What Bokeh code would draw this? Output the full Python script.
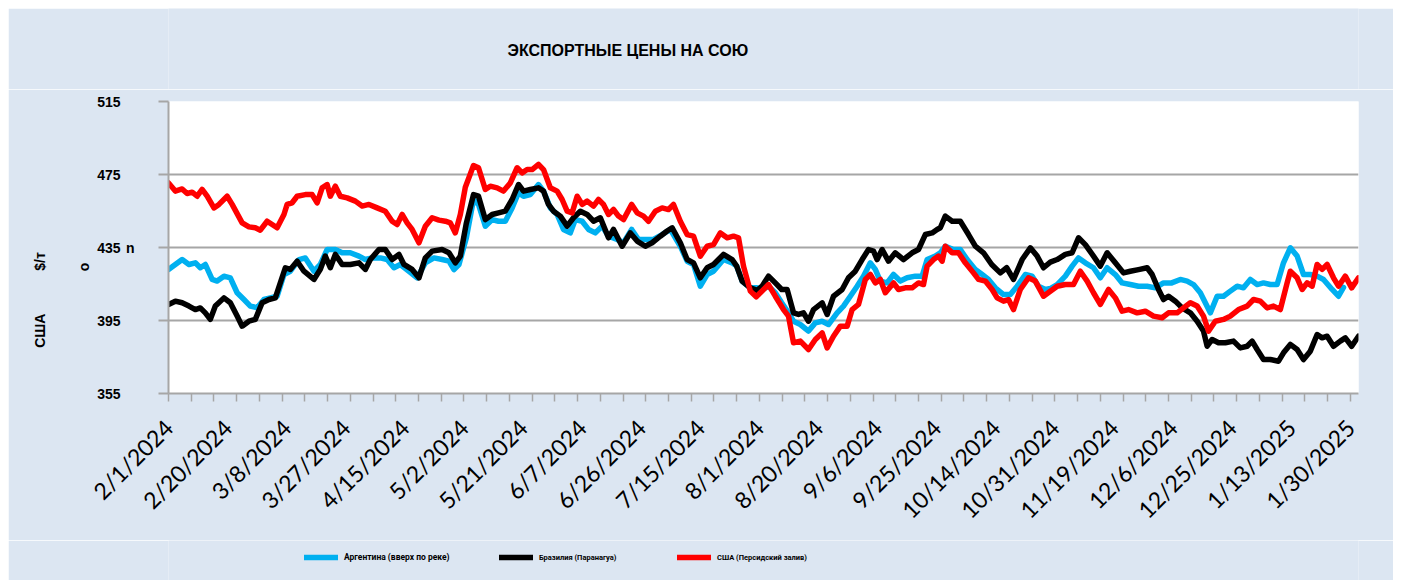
from math import pi
from bokeh.plotting import figure
from bokeh.layouts import column
from bokeh.models import FixedTicker, Legend, LegendItem, Range1d, LinearAxis, Label
from bokeh.embed import file_html
from bokeh.resources import INLINE

title_text = "ЭКСПОРТНЫЕ ЦЕНЫ НА СОЮ"
y_title_parts = ["США", "$/т", "о", "n"]
series_names = ["Аргентина (вверх по реке)", "Бразилия (Паранагуа)", "США (Персидский залив)"]
series_colors = ["#00b0f0", "#000000", "#ff0000"]
tick_labels = ["2/1/2024", "2/20/2024", "3/8/2024", "3/27/2024", "4/15/2024", "5/2/2024",
               "5/21/2024", "6/7/2024", "6/26/2024", "7/15/2024", "8/1/2024", "8/20/2024",
               "9/6/2024", "9/25/2024", "10/14/2024", "10/31/2024", "11/19/2024", "12/6/2024",
               "12/25/2024", "1/13/2025", "1/30/2025"]
label_step = 13          # trading days between date labels
minor_step = 5           # trading days between tick marks
y_ticks = [355, 395, 435, 475, 515]

# x = trading-day index from 2/1/2024
arg_x = [0, 1.5, 3.0, 4.5, 5.9, 7.0, 8.1, 9.6, 10.7, 12.2, 13.6, 15.1, 16.6, 18.0, 19.5, 21.0, 22.4, 23.9,
         25.4, 26.8, 28.7, 30.1, 32.0, 33.4, 34.9, 36.7, 38.2, 40.0, 41.9, 43.3, 44.8, 46.6, 48.1, 49.6,
         51.0, 52.9, 54.7, 56.5, 58.4, 60.2, 61.7, 62.8, 63.9, 65.5,
         67.1, 68.2, 69.7, 71.2, 72.6, 74.1, 75.6, 77.0, 78.1, 79.6, 81.4, 82.5, 84.0, 85.5, 86.9, 88.4,
         89.5, 91.0, 92.4, 93.9, 95.4, 96.8, 98.7, 100.1, 101.9, 103.4, 104.9, 106.7, 108.6, 110.4,
         112.6, 114.1, 115.5, 117.0, 118.5, 119.9, 122.1, 124.0, 125.0, 126.2, 128.0,
         129.3, 130.6, 132.0, 133.5, 134.9, 136.4, 137.5, 139.0, 140.8, 142.3, 143.8, 145.2, 147.1,
         148.5, 150.0, 151.5, 152.9, 154.4, 155.5, 156.6, 158.1, 159.5, 161.0, 162.5, 164.3, 165.8,
         166.9, 168.7, 169.8, 170.9, 172.7, 174.2, 175.7, 177.5, 179.0, 180.4, 181.9, 183.7, 185.2,
         186.7, 188.5, 190.0, 191.4, 192.9,
         194.0, 195.5, 197.3, 198.8, 200.2, 201.7, 203.5, 205.0, 206.5, 208.3, 209.8, 211.6, 213.4,
         215.3, 217.1, 218.9, 220.7, 222.6, 224.1, 225.5, 227.0, 228.1, 229.2, 230.7, 232.1, 233.6,
         235.1, 236.5, 238.0, 239.5, 240.9, 242.4, 243.9, 245.3, 246.8, 248.3, 249.7, 251.2, 252.7,
         254.1, 256.0, 257.4, 258.5]
arg_y = [422.9, 425.7, 428.4, 425.7, 426.6, 423.9, 425.7, 417.5, 416.6, 419.3, 418.4, 410.2, 406.5, 402.9,
         402.0, 406.5, 407.4, 408.3, 420.2, 422.0, 428.4, 429.3, 422.0, 425.7, 433.9, 433.9, 432.1, 432.1,
         430.3, 428.4, 429.3, 429.3, 428.4, 423.9, 425.7, 422.0, 418.4, 426.6, 429.3, 428.4, 427.5, 422.9,
         425.7, 440.0,
         461.3, 458.6, 446.7, 450.3, 449.4, 449.4, 456.7, 465.0, 463.1, 464.0, 469.5, 465.9, 456.7, 453.1,
         444.9, 443.0, 450.3, 449.4, 444.9, 443.0, 446.7, 441.2, 439.4, 437.6, 444.9, 439.4, 439.4, 439.4,
         442.1, 444.9, 435.7, 427.5, 425.7, 413.8, 420.2, 422.0, 428.4, 426.6, 424.8, 416.6, 412.9,
         413.0, 412.0, 413.8, 410.2, 404.7, 399.2, 394.6, 392.8, 389.2, 393.7, 394.6, 392.8, 399.2,
         402.9, 408.3, 413.8, 419.3, 426.6, 423.0, 416.6, 415.6, 420.2, 416.6, 418.4, 419.3, 419.3,
         428.4, 430.3, 432.1, 435.7, 433.9, 433.9, 428.4, 423.0, 420.2, 417.5, 412.9, 409.2, 409.2,
         413.8, 420.2, 419.3, 413.8, 412.0,
         412.5, 414.7, 419.3, 424.8, 429.3, 426.6, 423.9, 418.4, 423.9, 420.2, 415.6, 414.7, 413.8,
         413.8, 412.9, 415.6, 415.6, 417.5, 416.6, 414.7, 410.2, 404.7, 399.2, 408.3, 408.3, 411.1,
         413.8, 412.9, 417.5, 414.7, 415.6, 414.7, 414.7, 426.6, 434.8, 430.3, 420.2, 420.2, 419.3,
         417.5, 412.0, 408.3, 413.1]

bra_x = [0, 1.5, 3.0, 4.5, 5.9, 7.0, 8.1, 9.2, 10.3, 12.2, 13.6, 15.1, 16.2, 17.7, 19.1, 20.6, 22.1, 23.5,
         25.7, 26.8, 28.3, 29.8, 32.0, 33.4, 34.5, 35.6, 36.7, 38.2, 40.0, 41.9, 43.3, 44.4, 46.3, 47.7,
         49.2, 50.7, 51.8, 53.6, 55.1, 56.5, 58.0, 60.2, 61.7, 63.1, 64.2, 65.5,
         67.1, 68.2, 69.7, 71.2, 72.6, 74.1, 75.6, 77.0, 78.1, 79.6, 81.4, 82.5, 83.6, 84.7, 86.2, 87.7,
         89.1, 90.6, 92.1, 93.5, 95.0, 96.8, 97.9, 99.8, 101.6, 103.1, 104.9, 106.4, 108.2, 109.7, 110.8,
         112.6, 114.1, 115.5, 117.0, 118.5, 119.9, 122.1, 124.0, 125.0, 126.2, 128.0,
         129.5, 130.6, 132.0, 133.5, 134.9, 136.1, 137.5, 138.6, 139.7, 140.8, 141.9, 143.8, 144.9,
         146.3, 148.2, 149.6, 151.1, 152.6, 154.0, 155.1, 155.9, 157.0, 158.4, 159.9, 161.7, 163.6,
         165.0, 166.5, 168.0, 169.1, 169.8, 170.9, 172.4, 174.2, 176.0, 177.5, 179.3, 181.1, 183.0,
         184.4, 185.9, 187.8, 189.6, 191.1, 192.5, 194.0,
         195.5, 197.3, 198.8, 200.2, 201.7, 203.5, 205.0, 206.5, 208.3, 210.1, 211.6, 213.4, 215.3,
         216.4, 217.8, 218.9, 220.0, 221.5, 223.0, 224.8, 226.3, 227.7, 228.5, 229.6, 231.0, 232.5,
         234.3, 235.8, 237.3, 238.4, 239.5, 240.9, 242.4, 244.2, 245.3, 246.8, 248.3, 249.7, 251.2,
         252.7, 253.8, 254.9, 256.3, 257.8, 258.9, 260.3, 261.8]
bra_y = [403.8, 405.6, 404.7, 402.9, 401.0, 401.9, 399.2, 395.6, 402.9, 407.4, 404.7, 397.4, 391.9, 394.6,
         395.6, 404.7, 406.5, 407.4, 423.9, 423.0, 427.5, 422.0, 417.5, 423.0, 430.3, 423.9, 431.2, 425.7,
         425.7, 426.6, 423.0, 428.4, 433.9, 433.9, 428.4, 431.2, 425.7, 423.0, 418.4, 429.3, 433.0, 433.9,
         432.1, 426.6, 430.3, 448.0,
         464.0, 463.1, 450.3, 453.1, 454.0, 454.9, 461.3, 469.5, 465.9, 466.8, 467.7, 465.9, 458.6, 454.9,
         452.2, 446.7, 451.3, 454.9, 453.1, 449.4, 451.3, 440.3, 444.9, 435.7, 443.0, 438.5, 435.7, 437.6,
         441.2, 444.0, 445.8, 437.6, 428.4, 426.6, 418.4, 423.9, 425.7, 431.2, 428.4, 424.8, 416.6, 412.9,
         411.5, 413.8, 419.3, 415.6, 412.0, 412.0, 399.2, 398.3, 399.2, 394.6, 401.0, 404.7, 398.3,
         408.3, 412.0, 418.4, 422.0, 428.4, 433.9, 433.0, 428.4, 433.9, 427.5, 432.1, 428.4, 432.1,
         433.9, 442.1, 443.0, 444.9, 445.8, 452.2, 449.4, 449.4, 442.1, 435.7, 432.1, 425.7, 421.1,
         423.9, 417.5, 428.4, 434.8, 430.3, 423.9, 427.0,
         428.4, 431.2, 432.1, 440.3, 436.6, 430.3, 424.8, 432.1, 426.6, 421.1, 422.0, 422.9, 423.9,
         420.2, 412.0, 406.5, 408.3, 405.6, 401.9, 399.2, 394.6, 389.2, 380.9, 384.6, 382.8, 382.8,
         383.7, 380.0, 380.9, 383.7, 379.1, 373.6, 373.6, 372.7, 377.3, 381.9, 379.1, 373.6, 378.2,
         387.3, 385.5, 386.4, 380.9, 383.7, 385.5, 380.9, 386.4]

usa_x = [0, 1.5, 3.0, 4.1, 5.2, 6.3, 7.4, 8.5, 10.0, 11.1, 12.9, 14.0, 16.2, 17.7, 19.1, 20.2, 21.7, 22.8,
         23.9, 25.4, 26.1, 27.2, 28.3, 30.1, 31.6, 32.7, 33.8, 34.9, 35.6, 36.7, 37.8, 39.3, 41.1, 42.6,
         44.1, 45.9, 47.7, 49.2, 50.3, 51.4, 52.5, 53.6, 55.1, 56.5, 58.0, 59.5, 60.9, 62.0, 63.1, 64.2,
         65.3,
         67.1, 68.2, 69.7, 70.8, 72.3, 73.7, 75.2, 76.7, 77.8, 78.9, 80.0, 81.4, 82.5, 84.0, 85.5, 86.6,
         87.7, 88.8, 89.9, 91.0, 92.1, 93.5, 94.6, 95.7, 96.8, 97.9, 99.0, 100.1, 101.9, 103.1, 104.5,
         105.6, 107.1, 108.6, 110.0, 111.1, 112.6, 114.1, 115.5, 117.0, 118.5, 119.9, 121.4, 122.9, 124.3,
         125.4, 126.5, 128.0,
         129.3, 132.0, 133.5, 135.3, 136.4, 137.5, 139.0, 140.8, 142.3, 143.8, 144.9, 146.3, 147.8,
         149.3, 150.4, 151.8, 153.3, 154.4, 155.5, 156.6, 157.7, 159.5, 160.6, 162.1, 163.6, 165.0,
         166.1, 166.9, 168.3, 169.4, 170.2, 170.9, 172.4, 173.8, 175.3, 177.1, 178.2, 179.7, 181.2,
         182.3, 183.7, 184.8, 185.9, 187.4, 189.2, 190.7, 192.5, 194.0,
         195.5, 197.3, 199.1, 200.6, 202.1, 203.5, 205.0, 206.8, 208.3, 209.8, 211.2, 213.1, 214.9,
         216.7, 218.6, 220.0, 221.9, 223.3, 224.8, 226.3, 227.7, 228.8, 230.3, 232.1, 233.6, 235.4,
         237.3, 238.7, 240.2, 241.7, 243.1, 244.6, 246.1, 246.8, 248.3, 249.4, 250.5, 251.6, 252.7,
         253.8, 254.9, 256.3, 257.4, 258.9, 260.3, 261.8]
usa_y = [470.4, 465.9, 467.1, 464.6, 465.3, 463.1, 466.8, 463.1, 456.7, 458.6, 463.1, 458.6, 448.5, 446.3,
         445.8, 444.5, 449.4, 447.6, 445.8, 453.1, 458.6, 459.5, 463.1, 464.0, 464.0, 459.5, 467.7, 469.5,
         463.1, 468.6, 463.1, 462.2, 460.4, 457.7, 458.6, 456.7, 454.9, 449.4, 447.6, 453.1, 448.5, 444.9,
         437.6, 446.7, 451.3, 450.0, 449.4, 448.5, 443.0, 453.1, 468.0,
         479.9, 478.7, 466.8, 468.6, 467.7, 465.9, 470.4, 478.7, 475.9, 477.7, 477.7, 480.5, 477.7, 467.7,
         465.9, 461.3, 454.9, 454.0, 463.1, 458.6, 460.4, 457.7, 461.3, 458.6, 453.1, 455.8, 452.2, 450.3,
         458.6, 454.0, 452.2, 449.4, 454.9, 456.7, 455.8, 458.6, 449.4, 442.1, 441.2, 430.3, 435.7, 436.6,
         443.0, 440.3, 441.2, 440.3, 424.8, 411.1,
         408.0, 414.7, 408.3, 401.0, 397.4, 382.8, 383.7, 379.1, 384.6, 388.2, 380.0, 386.4, 391.9,
         391.9, 401.0, 403.8, 417.5, 420.2, 415.6, 417.5, 410.2, 415.6, 412.0, 412.9, 412.9, 415.6,
         414.7, 424.8, 428.4, 430.3, 427.5, 435.7, 432.1, 432.1, 426.6, 421.1, 417.5, 416.6, 412.0,
         407.4, 405.6, 406.5, 401.0, 412.0, 418.4, 416.6, 408.3, 411.0,
         413.8, 414.7, 414.7, 422.0, 416.6, 410.2, 403.8, 412.0, 407.4, 400.1, 401.0, 399.2, 400.1,
         397.4, 396.5, 399.2, 399.2, 401.9, 404.7, 402.9, 397.4, 389.2, 394.6, 395.6, 397.4, 401.0,
         402.9, 406.5, 405.6, 401.9, 402.9, 401.0, 415.6, 422.0, 418.4, 412.0, 415.6, 413.8, 425.7,
         423.0, 425.7, 418.4, 413.8, 419.3, 412.9, 418.4]

BG = "#dce6f2"
GRID = "#a6a6a6"
FONT = "Liberation Sans"
NB = "\u00a0"
LW = 5.5

def strip(height, margin):
    f = figure(width=1385, height=height, output_backend="svg", toolbar_location=None,
               x_range=Range1d(0, 261.8), y_range=Range1d(0, height),
               min_border_left=160, min_border_right=35, min_border_top=0, min_border_bottom=0,
               background_fill_color=BG, border_fill_color=BG, outline_line_color=None,
               x_axis_type=None, y_axis_type=None)
    f.margin = margin
    f.grid.visible = False
    return f

# title strip
p0 = strip(81, (8, 8, 0, 8))
p0.add_layout(Label(x=339, y=39, x_units="screen", y_units="screen", text=title_text,
                    text_font=FONT, text_font_style="bold", text_font_size="16px",
                    text_baseline="middle", text_align="left", text_color="black"))

# main chart
p = figure(width=1385, height=451, output_backend="svg", toolbar_location=None,
           x_range=Range1d(0, 261.8), y_range=Range1d(355, 515),
           min_border_left=160, min_border_right=35, min_border_top=12, min_border_bottom=147,
           background_fill_color="white", border_fill_color=BG, outline_line_color=None)
p.margin = (0, 8, 0, 8)

series = [(arg_x, arg_y), (bra_x, bra_y), (usa_x, usa_y)]
for (xs, ys), col in zip(series, series_colors):
    p.line(xs, ys, line_color=col, line_width=LW, line_join="round", line_cap="round")

def set_label_orientation(ax, val):
    try:
        ax.axis_label_orientation = val
    except Exception:
        pass

# y axis 1: line + ticks, label "n"
ax1 = p.yaxis[0]
ax1.ticker = FixedTicker(ticks=y_ticks)
ax1.major_label_overrides = {t: "" for t in y_ticks}
ax1.major_label_standoff = 0
ax1.major_tick_out = 10
ax1.major_tick_in = 0
ax1.major_tick_line_color = GRID
ax1.major_tick_line_width = 2
ax1.minor_tick_line_color = None
ax1.axis_line_color = GRID
ax1.axis_line_width = 2
ax1.axis_label = y_title_parts[3]
ax1.axis_label_standoff = 24
ax1.axis_label_text_font = FONT
ax1.axis_label_text_font_style = "bold"
ax1.axis_label_text_font_size = "14px"
ax1.axis_label_text_color = "black"
set_label_orientation(ax1, "horizontal")

# y axis 2: tick numbers, label "о" (sits a little below the middle)
ax2 = LinearAxis(ticker=FixedTicker(ticks=y_ticks), axis_line_color=None,
                 major_tick_line_color=None, minor_tick_line_color=None,
                 major_tick_out=0, major_tick_in=0, major_label_standoff=2,
                 major_label_text_font=FONT, major_label_text_font_style="bold",
                 major_label_text_font_size="14px", major_label_text_color="black",
                 axis_label=y_title_parts[2] + NB * 10, axis_label_standoff=2,
                 axis_label_text_font=FONT, axis_label_text_font_style="bold",
                 axis_label_text_font_size="14px", axis_label_text_color="black")
p.add_layout(ax2, "left")

# y axis 3: "США $/т"
ytitle = y_title_parts[0] + NB * 11 + y_title_parts[1] + NB * 27
ax3 = LinearAxis(ticker=FixedTicker(ticks=y_ticks), axis_line_color=None,
                 major_tick_line_color=None, minor_tick_line_color=None,
                 major_tick_out=0, major_tick_in=0, major_label_standoff=0,
                 major_label_overrides={t: "" for t in y_ticks},
                 axis_label=ytitle, axis_label_standoff=26,
                 axis_label_text_font=FONT, axis_label_text_font_style="bold",
                 axis_label_text_font_size="14px", axis_label_text_color="black")
p.add_layout(ax3, "left")

# x axis
label_pos = [i * label_step for i in range(len(tick_labels))]
minor_pos = list(range(0, 262, minor_step))
xa = p.xaxis[0]
xa.ticker = FixedTicker(ticks=label_pos, minor_ticks=minor_pos)
xa.major_label_overrides = {pos: lab for pos, lab in zip(label_pos, tick_labels)}
xa.major_label_orientation = pi / 4
xa.major_label_text_font = "Lato"
xa.major_label_text_font_size = "23px"
xa.major_label_text_color = "black"
xa.major_label_standoff = 22
xa.major_tick_line_color = None
xa.major_tick_out = 8
xa.major_tick_in = 0
xa.minor_tick_out = 8
xa.minor_tick_in = 0
xa.minor_tick_line_color = GRID
xa.minor_tick_line_width = 1.5
xa.axis_line_color = GRID
xa.axis_line_width = 2

p.ygrid.ticker = FixedTicker(ticks=y_ticks)
p.ygrid.grid_line_color = GRID
p.ygrid.grid_line_width = 2
p.xgrid.visible = False

# legend strip: its copies of the series lie outside its view
p2 = strip(40, (0, 8, 8, 8))
legend_x = [136, 331, 509]
legend_size = ["8.5px", "7.5px", "7.5px"]
for (xs, ys), name, col, lx, fs in zip(series, series_names, series_colors, legend_x, legend_size):
    r = p2.line(xs, ys, line_color=col, line_width=LW, line_cap="round")
    lg = Legend(items=[LegendItem(label=name, renderers=[r])], location=(lx, 17),
                orientation="horizontal", background_fill_alpha=0, border_line_color=None,
                padding=0, margin=0, glyph_width=34, glyph_height=12, label_height=12,
                label_standoff=6, label_text_font="Roboto",
                label_text_font_size=fs, label_text_font_style="bold",
                label_text_color="black")
    p2.add_layout(lg, "center")

layout = column(p0, p, p2, spacing=0)
open("out.html", "w").write(file_html(layout, INLINE))
